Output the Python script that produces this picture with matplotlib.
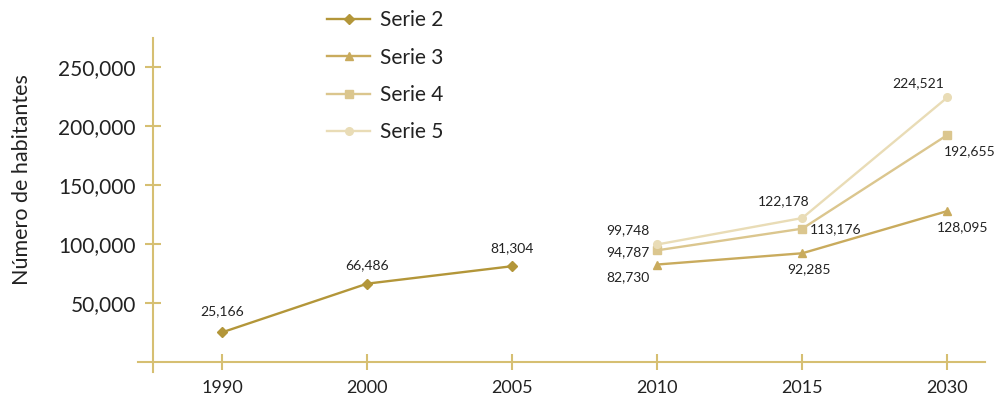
import matplotlib.pyplot as plt
import numpy as np

plt.rcParams['font.family'] = ['Lato', 'DejaVu Sans']

years = ['1990', '2000', '2005', '2010', '2015', '2030']
serie2 = [25166, 66486, 81304, np.nan, np.nan, np.nan]
serie3 = [np.nan, np.nan, np.nan, 82730, 92285, 128095]
serie4 = [np.nan, np.nan, np.nan, 94787, 113176, 192655]
serie5 = [np.nan, np.nan, np.nan, 99748, 122178, 224521]

axis_color = '#d6bf72'
text_color = '#222222'

fig = plt.figure(figsize=(9.96, 4), dpi=100)
ax = fig.add_axes([138 / 996, 28 / 400, (985 - 138) / 996, (372 - 38) / 400])

x = np.arange(len(years))

# (label, values, color, marker, marker size, label offsets in pixels)
series = [
    ('Serie 2', serie2, '#b39639', 'D', 5,
     [(0, 21), (0, 19), (0, 18), None, None, None]),
    ('Serie 3', serie3, '#c9ab5d', '^', 5.5,
     [None, None, None, (-29, -13), (7, -16), (15, -16)]),
    ('Serie 4', serie4, '#dbc68e', 's', 5.5,
     [None, None, None, (-29, -2), (33, -1), (22, -16)]),
    ('Serie 5', serie5, '#e9dcb6', 'o', 5.5,
     [None, None, None, (-29, 14), (-19, 17), (-29, 14)]),
]

for name, vals, color, marker, ms, offs in series:
    ax.plot(x, vals, color=color, marker=marker, markersize=ms, lw=1.7,
            label=name, zorder=3)
    for xi, v, off in zip(x, vals, offs):
        if off is None or np.isnan(v):
            continue
        ax.annotate(f'{int(v):,}', (xi, v), xytext=off,
                    textcoords='offset pixels', ha='center', va='center',
                    fontsize=10, color=text_color, annotation_clip=False)

ax.set_xlim(-0.58, 5.26)
ax.set_ylim(-8500, 275000)

for side in ['top', 'right']:
    ax.spines[side].set_visible(False)
ax.spines['left'].set_position(('data', -0.48))
ax.spines['bottom'].set_position(('data', 0))
for side in ['left', 'bottom']:
    ax.spines[side].set_color(axis_color)
    ax.spines[side].set_linewidth(1.5)

ax.set_xticks(x, years)
ax.set_yticks([50000, 100000, 150000, 200000, 250000])
ax.yaxis.set_major_formatter(plt.FuncFormatter(lambda v, p: f'{int(v):,}'))
ax.tick_params(axis='both', direction='inout', length=12, width=1.5,
               color=axis_color, labelcolor=text_color)
ax.tick_params(axis='y', labelsize=15, pad=6)
ax.tick_params(axis='x', labelsize=13, pad=7)

fig.text(22 / 996, 1 - 180 / 400, 'Número de habitantes', rotation=90,
         ha='center', va='center', fontsize=15.5, color=text_color)

ax.legend(loc='upper left', bbox_to_anchor=(321 / 996, 0.99),
          bbox_transform=fig.transFigure, frameon=False, fontsize=15,
          borderaxespad=0, borderpad=0.3, handlelength=2.07,
          handletextpad=0.48, labelspacing=0.83, labelcolor=text_color)

fig.savefig('out.png', dpi=100)
